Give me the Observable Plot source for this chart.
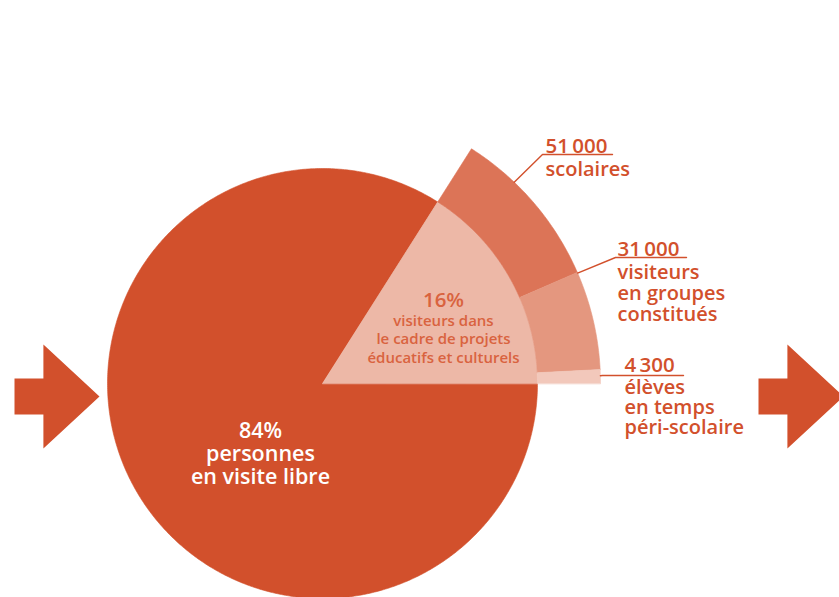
<!DOCTYPE html>
<html><head><meta charset="utf-8">
<script src="https://cdn.jsdelivr.net/npm/d3@7"></script>
<script src="https://cdn.jsdelivr.net/npm/@observablehq/plot@0.6"></script>
<style>html,body{margin:0;padding:0;background:#fff;} svg{display:block}</style>
</head><body><div id="chart"></div>
<script>
// ---- data ----
const shareNames = ["personnes\nen visite libre", "visiteurs dans\nle cadre de projets\néducatifs et culturels"];
const shares = [84, 16];
const groupNames = ["scolaires", "visiteurs\nen groupes\nconstitués", "élèves\nen temps\npéri-scolaire"];
const groupCounts = [51000, 31000, 4300];

// ---- layout ----
const W = 839, H = 597, cx = 322, cy = 383, r0 = 215, r1 = 278;
const colDark = "#D2502C", colInner = "#EDB8A7", segCols = ["#DC7457", "#E4977F", "#F2C8BB"];
const textCol = "#D2502C", text16 = "#D9633F";
const font = "'Open Sans', Lato, sans-serif";
const segLayout = [
  {leaderA: 46.4, knee: [542, 154], end: 612, tx: 545, numBase: 152, descBase: 175, lh: 21},
  {leaderA: 23.4, knee: [615, 257], end: 686, tx: 617, numBase: 255, descBase: 278, lh: 21},
  {leaderA: 1.6,  knee: [602, 375], end: 683, tx: 624, numBase: 371, descBase: 393, lh: 20}
];
const arrows = [{tail: 14, tip: 99, y: 396}, {tail: 758, tip: 843, y: 396}];

const fmt = n => d3.format(",")(n).replace(/,/g, "\u2009");
const rad = a => a * Math.PI / 180;
const pt = (r, a) => [cx + r * Math.cos(rad(a)), cy - r * Math.sin(rad(a))];
function arcPoly(a0, a1, rin, rout) {
  const pts = [];
  const n = Math.max(2, Math.ceil(Math.abs(a1 - a0) / 0.5));
  for (let i = 0; i <= n; i++) pts.push(pt(rout, a0 + (a1 - a0) * i / n));
  if (rin > 0) for (let i = n; i >= 0; i--) pts.push(pt(rin, a0 + (a1 - a0) * i / n));
  else pts.push([cx, cy]);
  return pts;
}

// slice angles (counter-clockwise from east)
const total = d3.sum(shares);
const a16 = shares[1] / total * 360;
const polys = [
  {pts: arcPoly(a16, 360, 0, r0), color: colDark},
  {pts: arcPoly(0, a16, 0, r0), color: colInner}
];
const gTotal = d3.sum(groupCounts);
let segTop = a16;
const segAngles = groupCounts.map((c, i) => {
  const span = c / gTotal * a16;
  const s = {a0: segTop - span, a1: segTop};
  segTop -= span;
  return s;
});
segAngles.forEach((s, i) => polys.push({pts: arcPoly(s.a0, s.a1, r0, r1), color: segCols[i]}));

function arrowPoly(a) {
  const shaft = 18, head = 52, neck = a.tip - (a.tip - a.tail) * 0.66;
  return [[a.tail, a.y - shaft], [neck, a.y - shaft], [neck, a.y - head], [a.tip, a.y],
          [neck, a.y + head], [neck, a.y + shaft], [a.tail, a.y + shaft]];
}

// multi-line text block: first baseline at firstBase, line spacing lh (px)
function textBlock(text, x, firstBase, lh, opts) {
  const n = text.split("\n").length;
  const fs = opts.fontSize;
  return Plot.text([text], {
    x: () => x, y: () => firstBase + (n - 1) * lh, text: d => d,
    lineAnchor: "bottom", lineHeight: lh / fs,
    fontFamily: font, fontWeight: 600, ...opts
  });
}

const marks = [];
polys.forEach(p => marks.push(Plot.line(p.pts, {x: d => d[0], y: d => d[1], fill: p.color, stroke: p.color, strokeWidth: 0.6, curve: "linear-closed"})));
arrows.forEach(a => marks.push(Plot.line(arrowPoly(a), {x: d => d[0], y: d => d[1], fill: colDark, stroke: "none", curve: "linear-closed"})));

// leaders + labels
groupCounts.forEach((c, i) => {
  const L = segLayout[i];
  marks.push(Plot.line([pt(r1, L.leaderA), L.knee, [L.end, L.knee[1]]], {x: d => d[0], y: d => d[1], stroke: textCol, strokeWidth: 1.4}));
  marks.push(textBlock(fmt(c), L.tx, L.numBase, 0, {fill: textCol, fontSize: 20.5, textAnchor: "start"}));
  marks.push(textBlock(groupNames[i], L.tx, L.descBase, L.lh, {fill: textCol, fontSize: 20, textAnchor: "start"}));
});

// 84% label
marks.push(textBlock(shares[0] + "%\n" + shareNames[0], 260, 437, 23, {fill: "white", fontSize: 21.5, textAnchor: "middle"}));
// 16% label
marks.push(textBlock(shares[1] + "%", 443, 306, 0, {fill: text16, fontSize: 20.5, textAnchor: "middle"}));
marks.push(textBlock(shareNames[1], 443, 325, 18.5, {fill: text16, fontSize: 15, textAnchor: "middle"}));

const chart = Plot.plot({
  width: W, height: H,
  margin: 0,
  x: {domain: [0, W], range: [0, W], axis: null},
  y: {domain: [0, H], range: [0, H], axis: null},
  style: {background: "white", overflow: "hidden"},
  marks
});
document.getElementById("chart").appendChild(chart);
</script>
</body></html>
